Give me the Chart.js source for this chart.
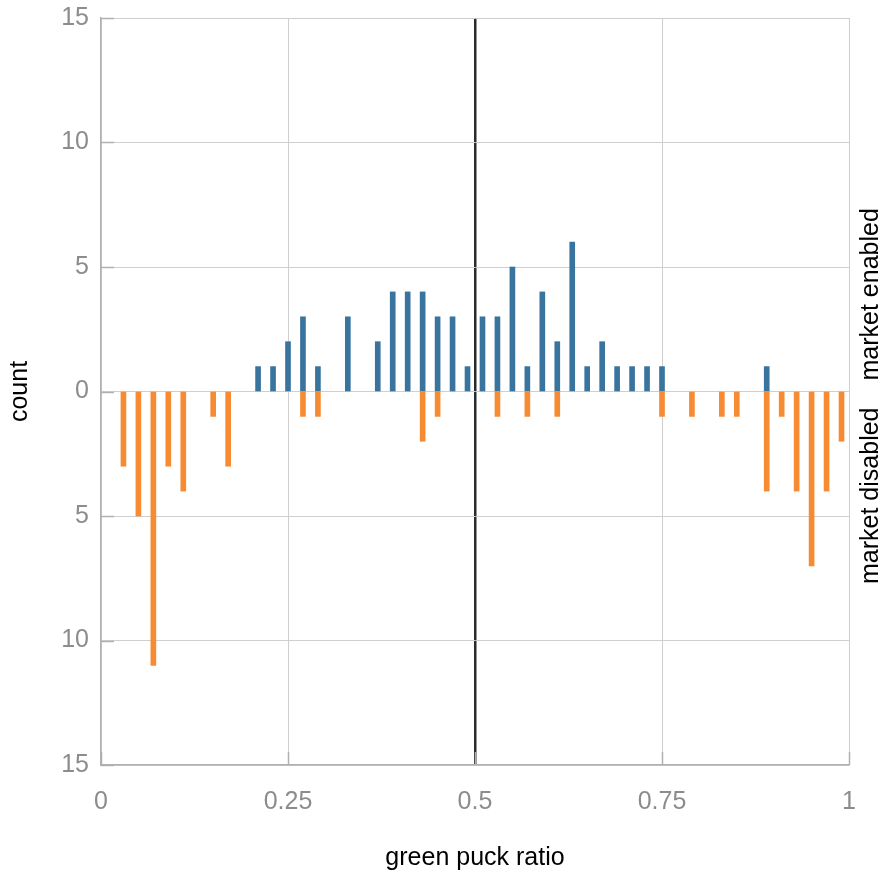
<!DOCTYPE html>
<html>
<head>
<meta charset="utf-8">
<script src="https://cdn.jsdelivr.net/npm/chart.js@4.4.1/dist/chart.umd.min.js"></script>
<style>
  html, body { margin: 0; padding: 0; background: #fff; }
  canvas { display: block; }
</style>
</head>
<body>
<canvas id="hist" width="879" height="874"></canvas>
<script>
// bin centres (green puck ratio) and counts
var enabledX = [0.21, 0.23, 0.25, 0.27, 0.29, 0.33, 0.37, 0.39, 0.41, 0.43, 0.45, 0.47, 0.49,
	0.51, 0.53, 0.55, 0.57, 0.59, 0.61, 0.63, 0.65, 0.67, 0.69, 0.71, 0.73, 0.75, 0.89];
var enabledCount = [1, 1, 2, 3, 1, 3, 2, 4, 4, 4, 3, 3, 1,
	3, 3, 5, 1, 4, 2, 6, 1, 2, 1, 1, 1, 1, 1];

var disabledX = [0.03, 0.05, 0.07, 0.09, 0.11, 0.15, 0.17, 0.27, 0.29, 0.43, 0.45,
	0.53, 0.57, 0.61, 0.75, 0.79, 0.83, 0.85, 0.89, 0.91, 0.93, 0.95, 0.97, 0.99];
var disabledCount = [3, 5, 11, 3, 4, 1, 3, 1, 1, 2, 1,
	1, 1, 1, 1, 1, 1, 1, 4, 1, 4, 7, 4, 2];

var xTicks = [0, 0.25, 0.5, 0.75, 1];
var yTicks = [-15, -10, -5, 0, 5, 10, 15];

var FONT = '"Liberation Sans", Arial, Helvetica, sans-serif';
var GRAY = '#8c8c8c';

var toPoints = function(xs, ys, sign) {
	return xs.map(function(x, i) { return { x: x, y: sign * ys[i] }; });
};

var sideLabels = {
	id: 'sideLabels',
	afterDraw: function(chart) {
		var ctx = chart.ctx;
		var area = chart.chartArea;
		var zero = chart.scales.y.getPixelForValue(0);
		ctx.save();
		ctx.fillStyle = '#000';
		ctx.font = '25px ' + FONT;
		ctx.textBaseline = 'middle';
		ctx.translate(area.right + 22, zero);
		ctx.rotate(-Math.PI / 2);
		ctx.textAlign = 'left';
		ctx.fillText('market enabled', 11, 0);
		ctx.textAlign = 'right';
		ctx.fillText('market disabled', -16, 0);
		ctx.restore();

		// short inward ticks on the axes
		ctx.save();
		ctx.strokeStyle = '#b0b0b0';
		ctx.lineWidth = 1.5;
		yTicks.forEach(function(v) {
			var py = Math.round(chart.scales.y.getPixelForValue(v)) + 0.5;
			ctx.beginPath();
			ctx.moveTo(area.left, py);
			ctx.lineTo(area.left + 13, py);
			ctx.stroke();
		});
		xTicks.forEach(function(v) {
			var px = Math.round(chart.scales.x.getPixelForValue(v)) + 0.5;
			ctx.beginPath();
			ctx.moveTo(px, area.bottom);
			ctx.lineTo(px, area.bottom - 13);
			ctx.stroke();
		});
		ctx.restore();
	}
};

window.onload = function() {
	var ctx = document.getElementById('hist').getContext('2d');
	window.myHist = new Chart(ctx, {
		type: 'bar',
		data: {
			datasets: [{
				label: 'market enabled',
				data: toPoints(enabledX, enabledCount, 1),
				backgroundColor: '#39749e',
				grouped: false,
				barThickness: 5
			}, {
				label: 'market disabled',
				data: toPoints(disabledX, disabledCount, -1),
				backgroundColor: '#f78b33',
				grouped: false,
				barThickness: 5
			}]
		},
		options: {
			responsive: false,
			animation: false,
			layout: { padding: { top: 18, right: 30, left: 0, bottom: 0 } },
			plugins: {
				legend: { display: false },
				tooltip: { enabled: false }
			},
			scales: {
				x: {
					type: 'linear',
					min: 0,
					max: 1,
					offset: false,
					afterBuildTicks: function(scale) {
						scale.ticks = xTicks.map(function(v) { return { value: v }; });
					},
					afterFit: function(scale) { scale.height = 109; },
					grid: {
						offset: false,
						drawTicks: false,
						color: function(c) { return c.tick && c.tick.value === 0.5 ? '#2a2a2a' : '#cfcfcf'; },
						lineWidth: function(c) { return c.tick && c.tick.value === 0.5 ? 2.5 : 1; }
					},
					border: { color: '#b0b0b0', width: 1.5 },
					ticks: {
						autoSkip: false,
						maxRotation: 0,
						padding: 22,
						color: GRAY,
						font: { family: FONT, size: 25 },
						callback: function(v) { return String(v); }
					},
					title: {
						display: true,
						text: 'green puck ratio',
						color: '#000',
						font: { family: FONT, size: 25 },
						padding: { top: 0, bottom: 1 }
					}
				},
				y: {
					min: -15,
					max: 15,
					afterBuildTicks: function(scale) {
						scale.ticks = yTicks.map(function(v) { return { value: v }; });
					},
					afterFit: function(scale) {
						scale.width = 101;
						scale.paddingTop = 0;
						scale.paddingBottom = 0;
					},
					grid: {
						drawTicks: false,
						color: '#cfcfcf'
					},
					border: { color: '#b0b0b0', width: 1.5 },
					ticks: {
						autoSkip: false,
						padding: 12,
						color: GRAY,
						font: { family: FONT, size: 25 },
						callback: function(v) { return String(Math.abs(v)); }
					},
					title: {
						display: true,
						text: 'count',
						color: '#000',
						font: { family: FONT, size: 25 },
						padding: { top: 5, bottom: 0 }
					}
				}
			}
		},
		plugins: [sideLabels]
	});
};
</script>
</body>
</html>
